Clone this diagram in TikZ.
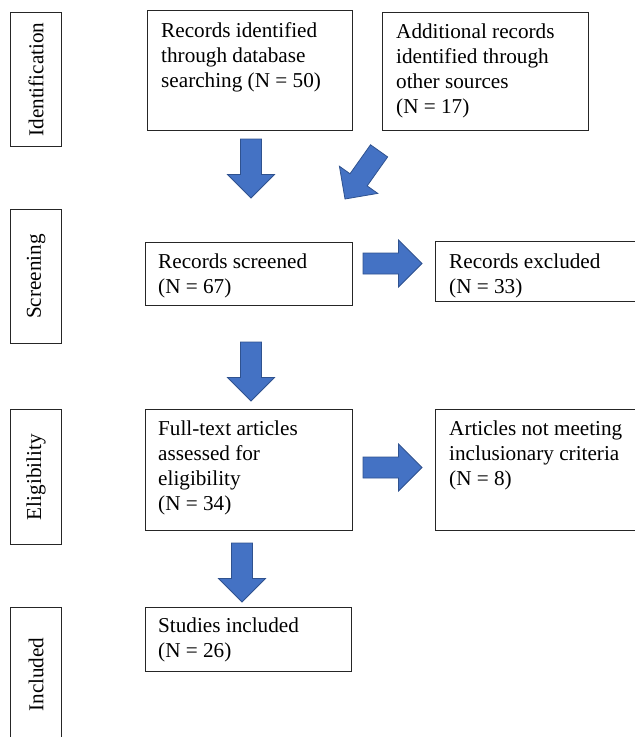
\documentclass[tikz,border=0pt]{standalone}
\usepackage{fontspec}
\setmainfont{Liberation Serif}
\usetikzlibrary{calc}
\definecolor{arrowblue}{HTML}{4472C4}
\definecolor{arrowedge}{HTML}{2F528F}
\newcommand{\blockarrow}[2]{%
  \filldraw[blockarrow, shift={#1}, rotate=#2]
    (0,0) -- (-23.5,23.5) -- (-23.5,10.5) -- (-59,10.5) -- (-59,-10.5)
    -- (-23.5,-10.5) -- (-23.5,-23.5) -- cycle;}
\begin{document}
\begin{tikzpicture}[x=1pt,y=-1pt,
  box/.style={draw=black!85, line width=1.1pt, rectangle, inner sep=0pt, anchor=north west},
  txt/.style={inner sep=0pt, anchor=north west, align=left, font=\fontsize{21.2}{25}\selectfont},
  side/.style={inner sep=0pt, rotate=90, font=\fontsize{21.2}{25}\selectfont},
  blockarrow/.style={fill=arrowblue, draw=arrowedge, line width=0.8pt, line join=miter}]
\useasboundingbox (0,0) rectangle (635,737);
\clip (0,0) rectangle (635,737);
% stage labels
\node[box, minimum width=51pt, minimum height=134pt] (s1) at (10,12) {};
\node[box, minimum width=51pt, minimum height=134pt] (s2) at (10,209) {};
\node[box, minimum width=51pt, minimum height=135pt] (s3) at (10,409) {};
\node[box, minimum width=51pt, minimum height=134pt] (s4) at (10,607) {};
\node[side] (l1) at (s1.center) {Identification};
\node[side] (l2) at (s2.center) {Screening};
\node[side] (l3) at (s3.center) {Eligibility};
\node[side] (l4) at (s4.center) {Included};
% boxes
\node[box, minimum width=205pt, minimum height=120pt] (b1) at (147,10) {};
\node[box, minimum width=206pt, minimum height=118pt] (b2) at (382,12) {};
\node[box, minimum width=207pt, minimum height=63pt] (b3) at (145,242) {};
\node[box, minimum width=210pt, minimum height=60pt] (b4) at (435,241) {};
\node[box, minimum width=207pt, minimum height=121pt] (b5) at (145,409) {};
\node[box, minimum width=210pt, minimum height=121pt] (b6) at (435,409) {};
\node[box, minimum width=206pt, minimum height=64pt] (b7) at (145,607) {};
% texts
\node[txt] (t1) at ($(b1.north west)+(14,9.5)$) {\strut Records identified\\through database\\searching (N = 50)};
\node[txt] (t2) at ($(b2.north west)+(14,8.5)$) {\strut Additional records\\identified through\\other sources\\(N = 17)};
\node[txt] (t3) at ($(b3.north west)+(13,8.5)$) {\strut Records screened\\(N = 67)};
\node[txt] (t4) at ($(b4.north west)+(14,9.5)$) {\strut Records excluded\\(N = 33)};
\node[txt] (t5) at ($(b5.north west)+(13,8.5)$) {\strut Full-text articles\\assessed for\\eligibility\\(N = 34)};
\node[txt] (t6) at ($(b6.north west)+(14,8.5)$) {\strut Articles not meeting\\inclusionary criteria\\(N = 8)};
\node[txt] (t7) at ($(b7.north west)+(13,7.5)$) {\strut Studies included\\(N = 26)};
% block arrows (tip coordinates)
\coordinate (a1) at (251,198);
\coordinate (a2) at (345,199);
\coordinate (a3) at (251,401);
\coordinate (a4) at (422,263.5);
\coordinate (a5) at (422,467.5);
\coordinate (a6) at (242,602);
\blockarrow{(a1)}{-90}
\blockarrow{(a2)}{234.7}
\blockarrow{(a3)}{-90}
\blockarrow{(a4)}{0}
\blockarrow{(a5)}{0}
\blockarrow{(a6)}{-90}
\end{tikzpicture}
\end{document}
